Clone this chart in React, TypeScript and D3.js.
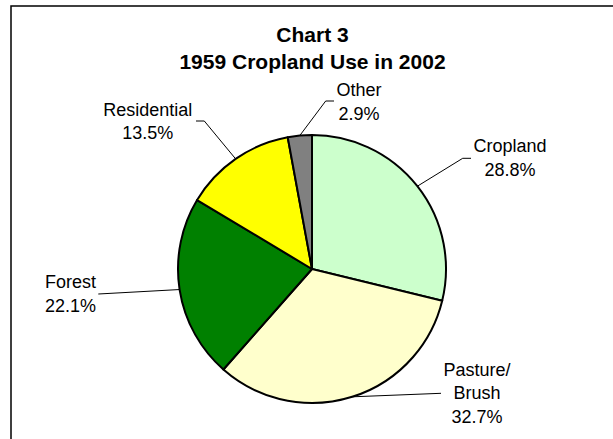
import React from "react";
import * as d3 from "d3";

// slices, clockwise from 12 o'clock
const categories = ["Cropland", "Pasture/Brush", "Forest", "Residential", "Other"];
const shares = [28.8, 32.7, 22.1, 13.5, 2.9];
const labelLines = [
  ["Cropland", "28.8%"],
  ["Pasture/", "Brush", "32.7%"],
  ["Forest", "22.1%"],
  ["Residential", "13.5%"],
  ["Other", "2.9%"],
];
const sliceColors = ["#CCFFCC", "#FFFFCC", "#008000", "#FFFF00", "#808080"];

const titleLines = ["Chart 3", "1959 Cropland Use in 2002"];

// label placement relative to the pie centre (elbow = bend of the leader, end = where it meets the text)
const labelLayout = [
  { elbow: [150.7, -110.7], end: [159, -110.7], tx: 198, ty: -116.7 },
  { elbow: null, end: [129, 124.3], tx: 165, ty: 106.5 },
  { elbow: null, end: [-213.7, 25], tx: -241.5, ty: 19 },
  { elbow: [-107.7, -148], end: [-116, -148], tx: -164.3, ty: -153.3 },
  { elbow: [13.7, -168], end: [22, -168], tx: 47, ty: -173 },
];

const W = 613;
const H = 439;
const cx = 312;
const cy = 269;
const radius = 134;
const font = "'Liberation Sans', Arial, Helvetica, sans-serif";

export default function App() {
  const data = categories.map((c, i) => ({ name: c, value: shares[i], idx: i }));
  const pie = d3
    .pie<any>()
    .sort(null)
    .value((d) => d.value)
    .startAngle(0)
    .endAngle(2 * Math.PI);
  const arcs = pie(data);
  const arc = d3.arc<any>().innerRadius(0).outerRadius(radius);
  const edge = d3.arc<any>().innerRadius(radius).outerRadius(radius);

  return (
    <svg
      width={W}
      height={H}
      style={{ position: "absolute", left: 0, top: 0, display: "block", background: "#fff" }}
    >
      <rect x={11} y={6} width={W + 20} height={H + 20} fill="#fff" stroke="#000" strokeWidth={1.5} />

      {titleLines.map((t, i) => (
        <text
          key={t}
          x={312.5}
          y={42 + i * 27}
          textAnchor="middle"
          fontFamily={font}
          fontWeight="bold"
          fontSize={21}
          fill="#000"
        >
          {t}
        </text>
      ))}

      <g transform={`translate(${cx},${cy})`}>
        {arcs.map((a) => (
          <path
            key={a.data.name}
            d={arc(a) || ""}
            fill={sliceColors[a.data.idx]}
            stroke="#000"
            strokeWidth={2}
            strokeLinejoin="round"
          />
        ))}

        {arcs.map((a) => {
          const lay = labelLayout[a.data.idx];
          const [ex, ey] = edge.centroid(a);
          const pts: number[][] = [[ex, ey]];
          if (lay.elbow) pts.push(lay.elbow);
          pts.push(lay.end);
          const line = d3.line()(pts as [number, number][]) || "";
          return (
            <g key={"lab" + a.data.name}>
              <path d={line} fill="none" stroke="#000" strokeWidth={1} />
              {labelLines[a.data.idx].map((s, j) => (
                <text
                  key={j}
                  x={lay.tx}
                  y={lay.ty + j * 23.5}
                  textAnchor="middle"
                  fontFamily={font}
                  fontSize={18}
                  fill="#000"
                >
                  {s}
                </text>
              ))}
            </g>
          );
        })}
      </g>
    </svg>
  );
}
